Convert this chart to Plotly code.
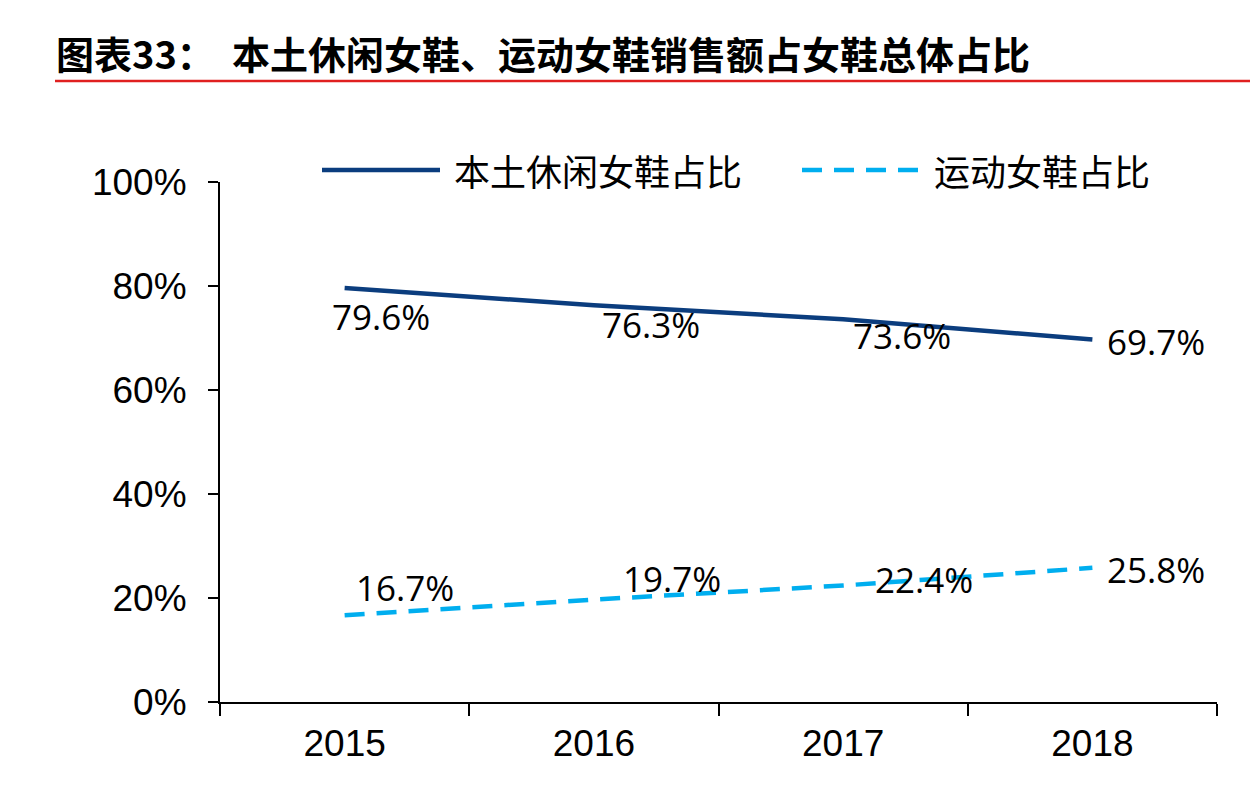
import plotly.graph_objects as go

# 数据
years = ["2015", "2016", "2017", "2018"]
local_casual = [0.796, 0.763, 0.736, 0.697]
sports = [0.167, 0.197, 0.224, 0.258]
series_names = ["本土休闲女鞋占比", "运动女鞋占比"]
y_ticks = [0, 0.2, 0.4, 0.6, 0.8, 1.0]
y_tick_labels = ["0%", "20%", "40%", "60%", "80%", "100%"]

title_text = "图表33：  本土休闲女鞋、运动女鞋销售额占女鞋总体占比"

navy = "#0B3D7E"
light_blue = "#00AEEF"

# 标签偏移 (像素)
local_shift = [(36, -28), (57, -19), (59, -16), (64, -2)]
sports_shift = [(60, 28), (78, 21), (81, 6), (64, -2)]

# 页面有 8px 的 body 边距
page_off = 8
fig_w, fig_h = 1258 - page_off, 790 - page_off

# 绘图区位置 (参考图像素)
plot_left, plot_right = 220, 1217
plot_top, plot_bottom = 182, 702


def px_x(px):
    return (px - plot_left) / (plot_right - plot_left)


def px_y(py):
    return (plot_bottom - py) / (plot_bottom - plot_top)


fig = go.Figure()

fig.add_trace(go.Scatter(
    x=years, y=local_casual, mode="lines", name=series_names[0],
    line=dict(color=navy, width=4.5), showlegend=False
))
fig.add_trace(go.Scatter(
    x=years, y=sports, mode="lines", name=series_names[1],
    line=dict(color=light_blue, width=4.5, dash="20px,12px"), showlegend=False
))

annotations = []
for vals, shifts in [(local_casual, local_shift), (sports, sports_shift)]:
    for i, (v, (dx, dy)) in enumerate(zip(vals, shifts)):
        annotations.append(dict(
            x=i, y=v, xref="x", yref="y", text="{:.1f}%".format(v * 100),
            showarrow=False, xshift=dx, yshift=dy,
            font=dict(family="Open Sans, Noto Sans, sans-serif", size=35, color="black")
        ))

# 标题
annotations.append(dict(
    x=px_x(54), y=px_y(52), xref="paper", yref="paper", text="<b>" + title_text + "</b>",
    showarrow=False, xanchor="left", yanchor="middle",
    font=dict(family="Noto Sans CJK SC", size=38, color="black")
))

# 图例
legend_font = dict(family="Noto Sans CJK SC", size=36, color="black")
annotations.append(dict(
    x=px_x(452), y=px_y(170), xref="paper", yref="paper", text=series_names[0],
    showarrow=False, xanchor="left", yanchor="middle", font=legend_font
))
annotations.append(dict(
    x=px_x(932), y=px_y(170), xref="paper", yref="paper", text=series_names[1],
    showarrow=False, xanchor="left", yanchor="middle", font=legend_font
))

shapes = [
    dict(type="line", xref="paper", yref="paper",
         x0=px_x(322), x1=px_x(440), y0=px_y(170), y1=px_y(170),
         line=dict(color=navy, width=4.5)),
    dict(type="line", xref="paper", yref="paper",
         x0=px_x(802), x1=px_x(918), y0=px_y(170), y1=px_y(170),
         line=dict(color=light_blue, width=4.5, dash="20px,12px")),
    dict(type="line", xref="paper", yref="paper",
         x0=px_x(55), x1=px_x(1252), y0=px_y(81), y1=px_y(81),
         line=dict(color="#E02020", width=2.5)),
]

tick_font = dict(family="Liberation Sans, Arial", size=37, color="black")

fig.update_layout(
    width=fig_w, height=fig_h,
    margin=dict(l=plot_left - page_off, r=1258 - plot_right,
                t=plot_top - page_off, b=790 - plot_bottom),
    paper_bgcolor="white", plot_bgcolor="white",
    showlegend=False,
    annotations=annotations,
    shapes=shapes,
    xaxis=dict(
        type="category", tickson="boundaries", ticks="outside", ticklen=12,
        tickcolor="black", tickwidth=2, showline=True, linecolor="black", linewidth=2,
        showgrid=False, zeroline=False, automargin=False, tickangle=0,
        range=[-0.5, 3.5], tickfont=tick_font, ticklabelstandoff=8,
    ),
    yaxis=dict(
        range=[0, 1], tickvals=y_ticks, ticktext=y_tick_labels,
        ticks="outside", ticklen=10, tickcolor="black", tickwidth=2,
        showline=True, linecolor="black", linewidth=2,
        showgrid=False, zeroline=False, automargin=False,
        tickfont=tick_font, ticklabelstandoff=14,
    ),
)

fig.write_html("out.html")
